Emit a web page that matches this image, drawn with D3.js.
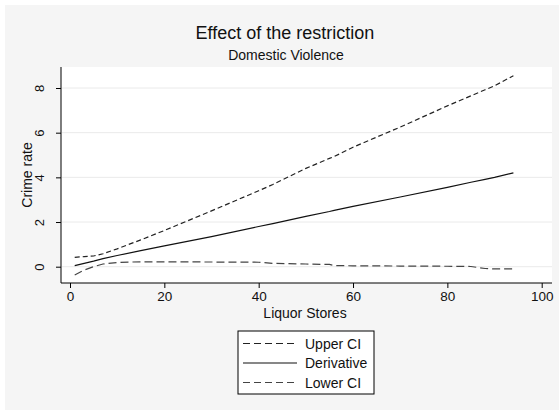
<!DOCTYPE html>
<html>
<head>
<meta charset="utf-8">
<script src="https://cdn.jsdelivr.net/npm/d3@7/dist/d3.min.js"></script>
<style>
  html, body { margin: 0; padding: 0; background: #ffffff; }
  svg { display: block; font-family: "Liberation Sans", Arial, sans-serif; }
</style>
</head>
<body>
<svg id="chart" width="559" height="410"></svg>
<script>
// Liquor store counts at which the effect was evaluated
const stores     = [1, 3, 5, 7, 10, 15, 20, 30, 40, 43, 50, 55, 56, 60, 70, 80, 85, 88, 90, 94];
// Estimated derivative of crime rate and its confidence bounds
const derivative = [0.05, 0.15, 0.25, 0.36, 0.5, 0.72, 0.93, 1.35, 1.8, 1.93, 2.25, 2.47, 2.52, 2.7, 3.12, 3.55, 3.78, 3.91, 4.0, 4.2];
const upperCI    = [0.42, 0.45, 0.48, 0.58, 0.8, 1.2, 1.62, 2.5, 3.4, 3.68, 4.4, 4.85, 4.93, 5.35, 6.25, 7.2, 7.65, 7.92, 8.1, 8.55];
const lowerCI    = [-0.37, -0.15, 0.0, 0.12, 0.19, 0.22, 0.22, 0.21, 0.2, 0.15, 0.12, 0.1, 0.05, 0.04, 0.03, 0.02, 0.01, -0.08, -0.1, -0.1];

const xTicks = [0, 20, 40, 60, 80, 100];
const yTicks = [0, 2, 4, 6, 8];

const svg = d3.select("#chart");
const W = 559, H = 410;
const FONT = "Liberation Sans, Arial, sans-serif";

// Graph region background
svg.append("rect").attr("x", 5).attr("y", 5).attr("width", W - 5).attr("height", H - 5).attr("fill", "#f5f5f5");

// Plot region
const plot = { left: 61, right: 552, top: 67, bottom: 283 };
svg.append("rect")
  .attr("x", plot.left).attr("y", plot.top)
  .attr("width", plot.right - plot.left).attr("height", plot.bottom - plot.top)
  .attr("fill", "#ffffff");

const x = d3.scaleLinear().domain([0, 100]).range([70, 541.7]);
const y = d3.scaleLinear().domain([0, 8]).range([266.7, 88]);

// Horizontal gridlines
svg.append("g").selectAll("line").data(yTicks).join("line")
  .attr("x1", plot.left + 1).attr("x2", plot.right)
  .attr("y1", d => y(d)).attr("y2", d => y(d))
  .attr("stroke", "#eaeaea").attr("stroke-width", 1);

// Y axis
const yAxis = svg.append("g")
  .attr("transform", `translate(${plot.left},0)`)
  .call(d3.axisLeft(y).tickValues(yTicks).tickSize(5).tickPadding(3).tickSizeOuter(0));
yAxis.select(".domain").attr("d", `M0,${plot.top}V${plot.bottom}`).attr("stroke", "#000");
yAxis.selectAll(".tick line").attr("stroke", "#000");
yAxis.selectAll(".tick text")
  .attr("transform", "rotate(-90)")
  .attr("x", 0).attr("y", -17).attr("dy", 0)
  .attr("text-anchor", "middle")
  .attr("font-size", 13).attr("fill", "#111")
  .attr("font-family", FONT);

// X axis
const xAxis = svg.append("g")
  .attr("transform", `translate(0,${plot.bottom})`)
  .call(d3.axisBottom(x).tickValues(xTicks).tickSize(5).tickPadding(3).tickSizeOuter(0));
xAxis.select(".domain").attr("d", `M${plot.left},0H${plot.right}`).attr("stroke", "#000");
xAxis.selectAll(".tick line").attr("stroke", "#000");
xAxis.selectAll(".tick text")
  .attr("font-size", 13.5).attr("fill", "#111")
  .attr("font-family", FONT);

// Titles
svg.append("text").attr("x", 285).attr("y", 38.5).attr("text-anchor", "middle")
  .attr("font-size", 18).attr("fill", "#111").text("Effect of the restriction");
svg.append("text").attr("x", 286).attr("y", 60).attr("text-anchor", "middle")
  .attr("font-size", 14).attr("fill", "#111").text("Domestic Violence");
svg.append("text").attr("x", 305).attr("y", 318).attr("text-anchor", "middle")
  .attr("font-size", 14).attr("fill", "#111").text("Liquor Stores");
svg.append("text").attr("transform", "translate(32,175) rotate(-90)").attr("text-anchor", "middle")
  .attr("font-size", 14).attr("fill", "#111").text("Crime rate");

// Series
const series = [
  { name: "Upper CI",   values: upperCI,    color: "#222", dash: "5,3" },
  { name: "Derivative", values: derivative, color: "#111", dash: null },
  { name: "Lower CI",   values: lowerCI,    color: "#444", dash: "8,4" }
];

const line = d3.line().x(d => x(d[0])).y(d => y(d[1]));
series.forEach(s => {
  svg.append("path")
    .datum(stores.map((v, i) => [v, s.values[i]]))
    .attr("d", line)
    .attr("fill", "none")
    .attr("stroke", s.color)
    .attr("stroke-width", 1.2)
    .attr("stroke-dasharray", s.dash);
});

// Legend
const lg = svg.append("g");
lg.append("rect").attr("x", 238).attr("y", 331).attr("width", 136).attr("height", 63)
  .attr("fill", "#ffffff").attr("stroke", "#000").attr("stroke-width", 1);
const rowY = [343.5, 363, 382.5];
const legendDash = ["7,4", null, "7,4"];
series.forEach((s, i) => {
  lg.append("line").attr("x1", 243).attr("x2", 297).attr("y1", rowY[i]).attr("y2", rowY[i])
    .attr("stroke", s.color).attr("stroke-width", 1.2).attr("stroke-dasharray", legendDash[i]);
  lg.append("text").attr("x", 305).attr("y", rowY[i] + 5)
    .attr("font-size", 14).attr("fill", "#111").text(s.name);
});
</script>
</body>
</html>
